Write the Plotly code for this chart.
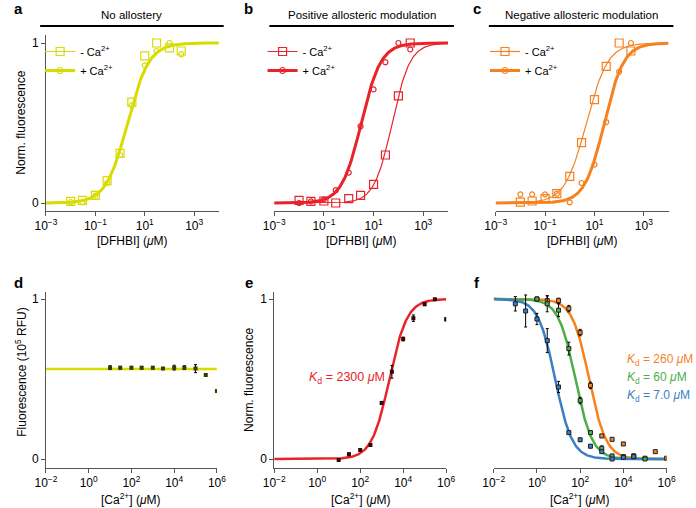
import numpy as np
import plotly.graph_objects as go

# ---------------- data ----------------
dfhbi_conc = [0.01, 0.03, 0.1, 0.3, 1, 3, 10, 30, 100, 300]
a_minus = [0.01, 0.017, 0.048, 0.14, 0.31, 0.63, 0.92, 1.0, 0.97, 0.95]
a_plus = [0.005, 0.005, 0.046, 0.125, 0.30, 0.61, 0.86, 0.95, 1.0, 0.93]
b_minus = [0.017, 0.01, 0.0125, 0.0, 0.027, 0.048, 0.117, 0.30, 0.67, 1.0]
b_plus = [0.0, 0.01, 0.023, 0.08, 0.19, 0.48, 0.71, 0.88, 1.0, 0.96]
c_minus = [0.006, 0.0125, 0.027, 0.058, 0.167, 0.377, 0.646, 0.854, 1.0, 0.95]
c_plus = [0.054, 0.054, 0.054, 0.058, 0.004, 0.125, 0.24, 0.506, 0.82, 1.0]

# fit parameters (EC50 in uM, Hill slope)
fit_a_minus = (2.0, 1.0)
fit_a_plus = (2.0, 1.0)
fit_b_minus = (56.0, 1.2)
fit_b_plus = (3.2, 1.1)
fit_c_minus = (4.7, 1.0)
fit_c_plus = (25.0, 1.1)

ca_conc = [10, 30, 100, 300, 1e3, 3e3, 1e4, 3e4, 1e5, 3e5, 1e6]
d_vals = [0.571, 0.571, 0.571, 0.571, 0.571, 0.565, 0.571, 0.571, 0.565, 0.525, 0.425]
d_err = [0.012, 0.008, 0.008, 0.008, 0.008, 0.005, 0.015, 0.012, 0.025, 0.008, 0.008]
d_level = 0.5625

e_vals = [-0.006, 0.03, 0.056, 0.0875, 0.35, 0.545, 0.75, 0.88, 0.967, 0.998, 0.873]
e_err = [0.005, 0.008, 0.006, 0.008, 0.01, 0.04, 0.012, 0.02, 0.008, 0.005, 0.01]
fit_e = (2300.0, 1.05)

f_orange_conc = [1, 3, 10, 30, 100, 300, 1e3, 3e3, 1e4, 3e4, 1e5, 3e5, 1e6]
f_orange = [1.0, 0.99, 0.99, 0.94, 0.79, 0.46, 0.144, 0.123, 0.094, 0.02, 0.005, 0.046, 0.005]
f_orange_err = [0.01, 0.03, 0.015, 0.02, 0.02, 0.02, 0.01, 0.01, 0.01, 0.01, 0.005, 0.01, 0.005]
f_green_conc = [1, 3, 10, 30, 100, 300, 1e3, 3e3, 1e4, 3e4, 1e5]
f_green = [1.0, 0.97, 0.93, 0.69, 0.365, 0.165, 0.067, 0.019, 0.015, 0.015, 0.0]
f_green_err = [0.01, 0.05, 0.04, 0.04, 0.02, 0.01, 0.015, 0.01, 0.01, 0.01, 0.005]
f_blue_conc = [0.1, 0.3, 1, 3, 10, 30, 100, 300, 1e3, 3e3, 1e4, 3e4]
f_blue = [0.97, 0.925, 0.875, 0.74, 0.45, 0.165, 0.12, 0.08, 0.046, 0.0, 0.01, 0.015]
f_blue_err = [0.045, 0.1, 0.035, 0.075, 0.035, 0.01, 0.01, 0.01, 0.01, 0.005, 0.01, 0.01]
fit_f_orange = (260.0, 1.1)
fit_f_green = (60.0, 1.1)
fit_f_blue = (7.0, 1.1)

top_tickvals = [1e-3, 1e-1, 1e1, 1e3]
top_ticktext = ["10<sup>−3</sup>", "10<sup>−1</sup>", "10<sup>1</sup>", "10<sup>3</sup>"]
bot_tickvals = [1e-2, 1, 1e2, 1e4, 1e6]
bot_ticktext = ["10<sup>−2</sup>", "10<sup>0</sup>", "10<sup>2</sup>", "10<sup>4</sup>", "10<sup>6</sup>"]

YELLOW = "#d8dc00"
RED = "#e8232a"
ORANGE = "#f7811f"
GREEN = "#4cae47"
BLUE = "#3a7fc4"
FONT = "Liberation Sans, Arial, sans-serif"

W, H = 696, 508
def px(xp):
    return xp / W
def py(yp):
    return (H - yp) / H

def hill_up(x, ec, n):
    return 1.0 / (1.0 + (ec / x) ** n)

def hill_down(x, kd, n):
    return 1.0 / (1.0 + (x / kd) ** n)

xs_top = np.logspace(-3, 4, 300)
xs_bot = np.logspace(-2, 6, 300)

fig = go.Figure()

def top_panel(i, color, mvals, pvals, fit_m, fit_p, legend):
    xa = "x" if i == 1 else f"x{i}"
    ya = "y" if i == 1 else f"y{i}"
    fig.add_trace(go.Scatter(x=xs_top, y=hill_up(xs_top, *fit_m), mode="lines",
                             line=dict(color=color, width=1.2), xaxis=xa, yaxis=ya,
                             showlegend=False, hoverinfo="skip"))
    fig.add_trace(go.Scatter(x=xs_top, y=hill_up(xs_top, *fit_p), mode="lines",
                             line=dict(color=color, width=3), xaxis=xa, yaxis=ya,
                             showlegend=False, hoverinfo="skip"))
    fig.add_trace(go.Scatter(x=dfhbi_conc, y=mvals, mode="markers",
                             marker=dict(symbol="square-open", size=8, color=color, line=dict(width=1.2)),
                             xaxis=xa, yaxis=ya, showlegend=False))
    fig.add_trace(go.Scatter(x=dfhbi_conc, y=pvals, mode="markers",
                             marker=dict(symbol="circle-open", size=5, color=color, line=dict(width=1.2)),
                             xaxis=xa, yaxis=ya, showlegend=False))
    fig.add_trace(go.Scatter(x=[None], y=[None], mode="lines+markers", name="- Ca<sup>2+</sup>",
                             line=dict(color=color, width=1.2),
                             marker=dict(symbol="square-open", size=8, color=color, line=dict(width=1.2)),
                             xaxis=xa, yaxis=ya, legend=legend))
    fig.add_trace(go.Scatter(x=[None], y=[None], mode="lines+markers", name="+ Ca<sup>2+</sup>",
                             line=dict(color=color, width=3),
                             marker=dict(symbol="circle-open", size=6, color=color, line=dict(width=1.2)),
                             xaxis=xa, yaxis=ya, legend=legend))

top_panel(1, YELLOW, a_minus, a_plus, fit_a_minus, fit_a_plus, "legend")
top_panel(2, RED, b_minus, b_plus, fit_b_minus, fit_b_plus, "legend2")
top_panel(3, ORANGE, c_minus, c_plus, fit_c_minus, fit_c_plus, "legend3")

# panel d
fig.add_trace(go.Scatter(x=[xs_bot[0], xs_bot[-1]], y=[d_level, d_level], mode="lines",
                         line=dict(color=YELLOW, width=2.5), xaxis="x4", yaxis="y4",
                         showlegend=False, hoverinfo="skip"))
fig.add_trace(go.Scatter(x=ca_conc, y=d_vals, mode="markers",
                         marker=dict(symbol="square", size=4, color="#3a3a00", line=dict(width=0)),
                         error_y=dict(type="data", array=d_err, color="black", thickness=1, width=1.5),
                         xaxis="x4", yaxis="y4", showlegend=False))

# panel e
fig.add_trace(go.Scatter(x=xs_bot, y=hill_up(xs_bot, *fit_e), mode="lines",
                         line=dict(color=RED, width=2.5), xaxis="x5", yaxis="y5",
                         showlegend=False, hoverinfo="skip"))
fig.add_trace(go.Scatter(x=ca_conc, y=e_vals, mode="markers",
                         marker=dict(symbol="square", size=4, color="#300808", line=dict(width=0)),
                         error_y=dict(type="data", array=e_err, color="black", thickness=1, width=1.5),
                         xaxis="x5", yaxis="y5", showlegend=False))

# panel f
f_series = [
    (f_orange_conc, f_orange, f_orange_err, fit_f_orange, ORANGE),
    (f_green_conc, f_green, f_green_err, fit_f_green, GREEN),
    (f_blue_conc, f_blue, f_blue_err, fit_f_blue, BLUE),
]
for conc, vals, err, fitp, col in f_series:
    fig.add_trace(go.Scatter(x=xs_bot, y=hill_down(xs_bot, *fitp), mode="lines",
                             line=dict(color=col, width=2.5), xaxis="x6", yaxis="y6",
                             showlegend=False, hoverinfo="skip"))
for conc, vals, err, fitp, col in f_series:
    fig.add_trace(go.Scatter(x=conc, y=vals, mode="markers",
                             marker=dict(symbol="square", size=4, color=col, line=dict(width=1, color="#222")),
                             error_y=dict(type="data", array=err, color="black", thickness=1, width=1.5),
                             xaxis="x6", yaxis="y6", showlegend=False))

AX = "#555555"
tickfont = dict(family=FONT, size=12, color="black")

def xaxis(dom, rng, tv, tt, anchor):
    return dict(type="log", domain=dom, range=rng, tickvals=tv, ticktext=tt,
                showline=True, linecolor=AX, linewidth=1, ticks="outside", ticklen=4,
                tickcolor=AX, tickfont=tickfont, showgrid=False, zeroline=False,
                anchor=anchor, fixedrange=True)

def yaxis(dom, rng, visible, anchor):
    d = dict(domain=dom, range=rng, showgrid=False, zeroline=False, anchor=anchor, fixedrange=True)
    if visible:
        d.update(showline=True, linecolor=AX, linewidth=1, ticks="outside", ticklen=4,
                 tickcolor=AX, tickvals=[0, 1], ticktext=["0", "1"], tickfont=tickfont)
    else:
        d.update(visible=False)
    return d

top_dom = [py(211), py(35)]
bot_dom = [py(467.8), py(291.8)]
top_rng = [-0.05, 1.05]
bot_rng = [-0.055, 1.045]

layout = dict(
    width=W, height=H, margin=dict(l=0, r=0, t=0, b=0),
    paper_bgcolor="white", plot_bgcolor="white",
    font=dict(family=FONT, size=12, color="black"),
    xaxis=xaxis([px(36), px(214)], [-3, 4], top_tickvals, top_ticktext, "y"),
    xaxis2=xaxis([px(271), px(450)], [-3, 4], top_tickvals, top_ticktext, "y2"),
    xaxis3=xaxis([px(499), px(677)], [-3, 4], top_tickvals, top_ticktext, "y3"),
    xaxis4=xaxis([px(36), px(212)], [-2, 6], bot_tickvals, bot_ticktext, "y4"),
    xaxis5=xaxis([px(271), px(448)], [-2, 6], bot_tickvals, bot_ticktext, "y5"),
    xaxis6=xaxis([px(497), px(675)], [-2, 6], bot_tickvals, bot_ticktext, "y6"),
    yaxis=yaxis(top_dom, top_rng, True, "x"),
    yaxis2=yaxis(top_dom, top_rng, False, "x2"),
    yaxis3=yaxis(top_dom, top_rng, False, "x3"),
    yaxis4=yaxis(bot_dom, bot_rng, True, "x4"),
    yaxis5=yaxis(bot_dom, bot_rng, True, "x5"),
    yaxis6=yaxis(bot_dom, bot_rng, False, "x6"),
)

def leg(x):
    return dict(x=px(x), y=py(37), xanchor="left", yanchor="top", bgcolor="rgba(0,0,0,0)",
                font=dict(family=FONT, size=11, color="black"), itemwidth=30,
                tracegroupgap=0, borderwidth=0)
layout["legend"] = leg(30)
layout["legend2"] = leg(259)
layout["legend3"] = leg(488)

fig.update_layout(**layout)

titles = [("No allostery", 30, 219), ("Positive allosteric modulation", 266, 456),
          ("Negative allosteric modulation", 492, 682)]
shapes = []
annotations = []
for t, x0, x1 in titles:
    shapes.append(dict(type="line", xref="paper", yref="paper", x0=px(x0), x1=px(x1),
                       y0=py(26), y1=py(26), line=dict(color="black", width=2)))
    annotations.append(dict(text=t, x=px((x0 + x1) / 2), y=py(15), xref="paper", yref="paper",
                            showarrow=False, font=dict(size=11.5), xanchor="center", yanchor="middle"))

for lab, x, y in [("a", 8, 9), ("b", 245, 9), ("c", 480, 9), ("d", 8, 282), ("e", 245, 282), ("f", 480, 282)]:
    annotations.append(dict(text=f"<b>{lab}</b>", x=px(x), y=py(y), xref="paper", yref="paper",
                            showarrow=False, font=dict(size=15), xanchor="center", yanchor="middle"))

for cx in [125, 361, 588]:
    annotations.append(dict(text="[DFHBI] (<i>μ</i>M)", x=px(cx), y=py(241), xref="paper", yref="paper",
                            showarrow=False, font=dict(size=12), xanchor="center", yanchor="middle"))
for cx in [124, 360, 586]:
    annotations.append(dict(text="[Ca<sup>2+</sup>] (<i>μ</i>M)", x=px(cx), y=py(499), xref="paper", yref="paper",
                            showarrow=False, font=dict(size=12), xanchor="center", yanchor="middle"))
annotations.append(dict(text="Norm. fluorescence", x=px(10), y=py(123), xref="paper", yref="paper",
                        showarrow=False, textangle=-90, font=dict(size=12), xanchor="center", yanchor="middle"))
annotations.append(dict(text="Fluorescence (10<sup>5</sup> RFU)", x=px(10), y=py(372), xref="paper", yref="paper",
                        showarrow=False, textangle=-90, font=dict(size=12), xanchor="center", yanchor="middle"))
annotations.append(dict(text="Norm. fluorescence", x=px(245), y=py(380), xref="paper", yref="paper",
                        showarrow=False, textangle=-90, font=dict(size=12), xanchor="center", yanchor="middle"))

annotations.append(dict(text="<i>K</i><sub>d</sub> = 2300 <i>μ</i>M", x=px(305), y=py(378), xref="paper", yref="paper",
                        showarrow=False, font=dict(size=12.5, color=RED), xanchor="left", yanchor="middle"))
for t, y, c in [("<i>K</i><sub>d</sub> = 260 <i>μ</i>M", 360, ORANGE),
                ("<i>K</i><sub>d</sub> = 60 <i>μ</i>M", 378, GREEN),
                ("<i>K</i><sub>d</sub> = 7.0 <i>μ</i>M", 396, BLUE)]:
    annotations.append(dict(text=t, x=px(632), y=py(y), xref="paper", yref="paper",
                            showarrow=False, font=dict(size=12, color=c), xanchor="left", yanchor="middle"))

fig.update_layout(shapes=shapes, annotations=annotations)
fig.write_html("out.html", config={"displayModeBar": False},
               post_script="document.body.style.margin='0';document.body.style.overflow='hidden';")
